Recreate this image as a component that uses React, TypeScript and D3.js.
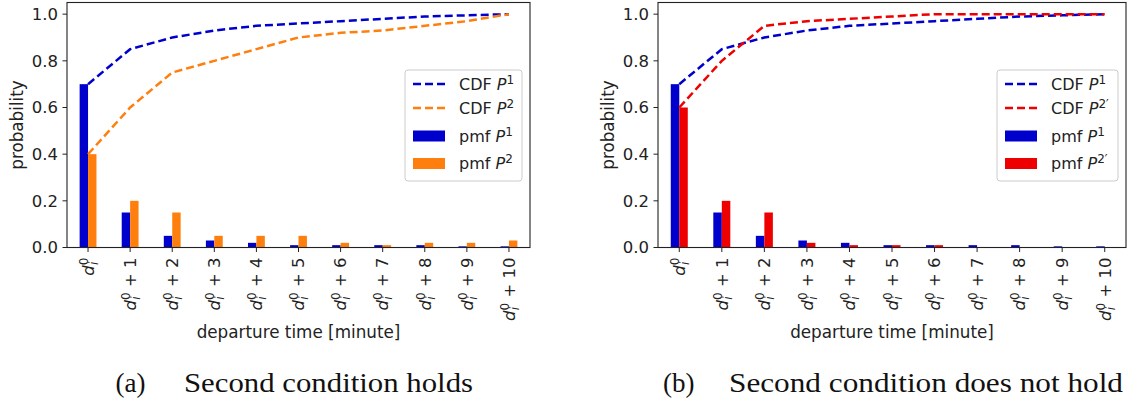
import React from 'react';
import * as d3 from 'd3';

// departure time offsets (minutes after d_i^0)
const offsets = [0, 1, 2, 3, 4, 5, 6, 7, 8, 9, 10];
const tickSuffixes = ['', ' + 1', ' + 2', ' + 3', ' + 4', ' + 5', ' + 6', ' + 7', ' + 8', ' + 9', ' + 10'];
const yTicks = [0, 0.2, 0.4, 0.6, 0.8, 1.0];

const pmfP1 = [0.7, 0.15, 0.05, 0.03, 0.02, 0.01, 0.01, 0.01, 0.01, 0.005, 0.005];
const cdfP1 = [0.7, 0.85, 0.9, 0.93, 0.95, 0.96, 0.97, 0.98, 0.99, 0.995, 1.0];

const pmfP2 = [0.4, 0.2, 0.15, 0.05, 0.05, 0.05, 0.02, 0.01, 0.02, 0.02, 0.03];
const cdfP2 = [0.4, 0.6, 0.75, 0.8, 0.85, 0.9, 0.92, 0.93, 0.95, 0.97, 1.0];

const pmfP2b = [0.6, 0.2, 0.15, 0.02, 0.01, 0.01, 0.01, 0, 0, 0, 0];
const cdfP2b = [0.6, 0.8, 0.95, 0.97, 0.98, 0.99, 1.0, 1.0, 1.0, 1.0, 1.0];

const BLUE = '#0000cd';
const ORANGE = '#ff7f0e';
const RED = '#ee0000';
const FONT = '"DejaVu Sans", sans-serif';

const W = 1127;
const H = 409;
const TOP = 2.5;
const BOTTOM = 247.5;

type PanelProps = {
  left: number;
  right: number;
  pmfA: number[];
  pmfB: number[];
  cdfA: number[];
  cdfB: number[];
  colorB: string;
  prime: boolean;
  legendW: number;
};

function PLabel({ sup, prime }: { sup: string; prime?: boolean }) {
  return (
    <>
      <tspan fontStyle="italic">P</tspan>
      <tspan fontSize={12} dy={-6}>{sup}{prime ? '\u2032' : ''}</tspan>
    </>
  );
}

function Panel({ left, right, pmfA, pmfB, cdfA, cdfB, colorB, prime, legendW }: PanelProps) {
  const x = d3.scaleLinear().domain([-0.5, 10.5]).range([left, right]);
  const y = d3.scaleLinear().domain([0, 1.05]).range([BOTTOM, TOP]);
  const bw = x(0.2) - x(0);
  const line = d3
    .line<number>()
    .x((_, i) => x(offsets[i]))
    .y(d => y(d));

  const lx = right - 8 - legendW;
  const rows = [84, 108, 136, 163.5];
  const legend = [
    { kind: 'line', color: BLUE, label: 'CDF ', sup: '1', prime: false },
    { kind: 'line', color: colorB, label: 'CDF ', sup: '2', prime },
    { kind: 'rect', color: BLUE, label: 'pmf ', sup: '1', prime: false },
    { kind: 'rect', color: colorB, label: 'pmf ', sup: '2', prime },
  ];

  return (
    <g fontFamily={FONT}>
      {offsets.map((o, i) => (
        <g key={o}>
          <rect x={x(o) - bw} y={y(pmfA[i])} width={bw} height={BOTTOM - y(pmfA[i])} fill={BLUE} />
          <rect x={x(o)} y={y(pmfB[i])} width={bw} height={BOTTOM - y(pmfB[i])} fill={colorB} />
        </g>
      ))}
      <path d={line(cdfA) || ''} fill="none" stroke={BLUE} strokeWidth={2.5} strokeDasharray="8,4" />
      <path d={line(cdfB) || ''} fill="none" stroke={colorB} strokeWidth={2.5} strokeDasharray="8,4" />

      <rect x={left} y={TOP} width={right - left} height={BOTTOM - TOP} fill="none" stroke="#222" strokeWidth={1.1} />

      {yTicks.map(t => (
        <g key={t}>
          <line x1={left - 4.5} x2={left} y1={y(t)} y2={y(t)} stroke="#222" />
          <text x={left - 9} y={y(t)} dy="0.36em" textAnchor="end" fontSize={16.5} fill="#222">
            {t.toFixed(1)}
          </text>
        </g>
      ))}
      <text
        transform={`translate(${left - 50},${(TOP + BOTTOM) / 2}) rotate(-90)`}
        textAnchor="middle"
        dy="0.35em"
        fontSize={16.8}
        fill="#222"
      >
        probability
      </text>

      {offsets.map((o, i) => (
        <g key={o}>
          <line x1={x(o)} x2={x(o)} y1={BOTTOM} y2={BOTTOM + 4.5} stroke="#222" />
          <text
            transform={`translate(${x(o)},${BOTTOM + 10}) rotate(-90)`}
            textAnchor="end"
            fontSize={16.5}
            fill="#222"
            style={{ whiteSpace: 'pre' }}
          >
            <tspan dy="0.35em" fontStyle="italic">d</tspan>
            <tspan fontSize={12} dy={-6}>0</tspan>
            <tspan fontSize={12} fontStyle="italic" dx={-7.6} dy={10}>i</tspan>
            <tspan dx={4.2} dy={-4}>{tickSuffixes[i]}</tspan>
          </text>
        </g>
      ))}
      <text x={(left + right) / 2} y={338} textAnchor="middle" fontSize={16.8} fill="#222">
        departure time [minute]
      </text>

      <rect x={lx} y={70} width={legendW} height={111} rx={3} fill="white" fillOpacity={0.8} stroke="#cccccc" />
      {legend.map((e, i) => (
        <g key={i}>
          {e.kind === 'line' ? (
            <line x1={lx + 8} x2={lx + 40} y1={rows[i]} y2={rows[i]} stroke={e.color} strokeWidth={2.5} strokeDasharray="8,4" />
          ) : (
            <rect x={lx + 8} y={rows[i] - 5.5} width={32} height={11} fill={e.color} />
          )}
          <text x={lx + 54} y={rows[i]} dy="0.36em" fontSize={16} fill="#222" style={{ whiteSpace: 'pre' }}>
            {e.label}
            <PLabel sup={e.sup} prime={e.prime} />
          </text>
        </g>
      ))}
    </g>
  );
}

export default function App() {
  const serif = '"Liberation Serif", serif';
  return (
    <svg width={W} height={H} style={{ position: 'absolute', left: 0, top: 0, background: 'white' }}>
      <Panel left={67} right={530} pmfA={pmfP1} pmfB={pmfP2} cdfA={cdfP1} cdfB={cdfP2} colorB={ORANGE} prime={false} legendW={117} />
      <Panel left={658} right={1126} pmfA={pmfP1} pmfB={pmfP2b} cdfA={cdfP1} cdfB={cdfP2b} colorB={RED} prime={true} legendW={121} />

      <g fontFamily={serif} fontSize={27} fill="#111">
        <text x={115.5} y={392}>(a)</text>
        <text x={184} y={392} textLength={289} lengthAdjust="spacingAndGlyphs">Second condition holds</text>
        <text x={663} y={392}>(b)</text>
        <text x={729} y={392} textLength={394} lengthAdjust="spacingAndGlyphs">Second condition does not hold</text>
      </g>
    </svg>
  );
}
